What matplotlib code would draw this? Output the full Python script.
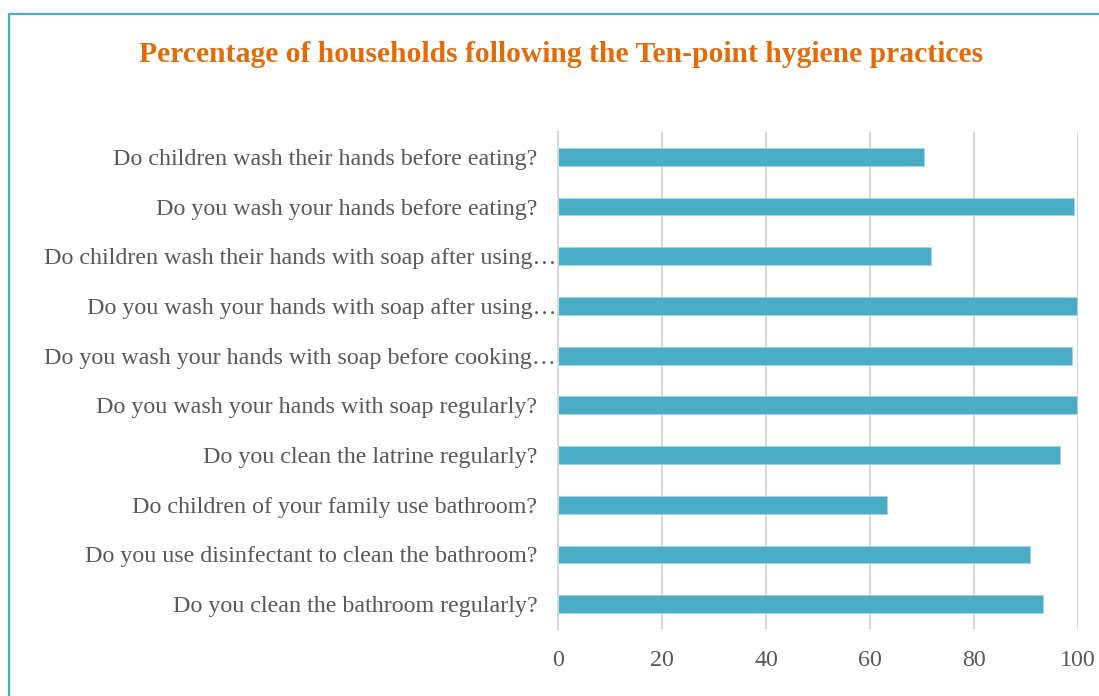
import matplotlib
matplotlib.use("Agg")
import matplotlib.pyplot as plt
from matplotlib.patches import Rectangle
from matplotlib.transforms import ScaledTranslation

questions = [
    "Do children wash their hands before eating?",
    "Do you wash your hands before eating?",
    "Do children wash their hands with soap after using\u2026",
    "Do you wash your hands with soap after using\u2026",
    "Do you wash your hands with soap before cooking\u2026",
    "Do you wash your hands with soap regularly?",
    "Do you clean the latrine regularly?",
    "Do children of your family use bathroom?",
    "Do you use disinfectant to clean the bathroom?",
    "Do you clean the bathroom regularly?",
]
percentages = [70.4, 99.2, 71.8, 99.8, 98.9, 99.8, 96.6, 63.2, 90.8, 93.2]
x_ticks = [0, 20, 40, 60, 80, 100]

title = "Percentage of households following the Ten-point hygiene practices"

plt.rcParams["font.family"] = ["Liberation Serif", "DejaVu Serif"]

W, H = 1099, 696
fig = plt.figure(figsize=(W / 100, H / 100), dpi=100)

# outer frame
fig.patches.append(Rectangle((9 / W, -0.1), 1.2, (H - 14) / H + 0.1,
                             transform=fig.transFigure, fill=False,
                             edgecolor="#4BACC6", linewidth=1.6))

ax = fig.add_axes([558 / W, 1 - 629 / H, (1078 - 558) / W, (629 - 132) / H])

ypos = list(range(len(questions)))[::-1]
ax.barh(ypos, percentages, height=0.36, color="#4BACC6",
        edgecolor="#A5D5E2", linewidth=0.6, zorder=3)

ax.set_xlim(0, 100)
ax.set_ylim(-0.5, len(questions) - 0.5)
ax.set_xticks(x_ticks)
ax.set_xticklabels([str(t) for t in x_ticks])
ax.set_yticks(ypos)
ax.set_yticklabels(questions)

ax.grid(axis="x", color="#D9D9D9", linewidth=1.5, zorder=0)
ax.set_axisbelow(True)
for side in ["top", "right", "bottom"]:
    ax.spines[side].set_visible(False)
ax.spines["left"].set_color("#D9D9D9")
ax.spines["left"].set_linewidth(1.5)
ax.spines["left"].set_zorder(4)

ax.tick_params(axis="both", length=0, labelcolor="#595959", labelsize=17.3)
ax.tick_params(axis="y", pad=15)
ax.tick_params(axis="x", pad=15)

# truncated labels run up to the axis line
for lbl in ax.get_yticklabels():
    if lbl.get_text().endswith("\u2026"):
        lbl.set_transform(lbl.get_transform() +
                          ScaledTranslation(19 / 100, 0, fig.dpi_scale_trans))

fig.text(561 / W, 1 - 55 / H, title, ha="center", va="center",
         fontsize=21.3, fontweight="bold", color="#E36C0A")

fig.savefig("out.png", dpi=100)
